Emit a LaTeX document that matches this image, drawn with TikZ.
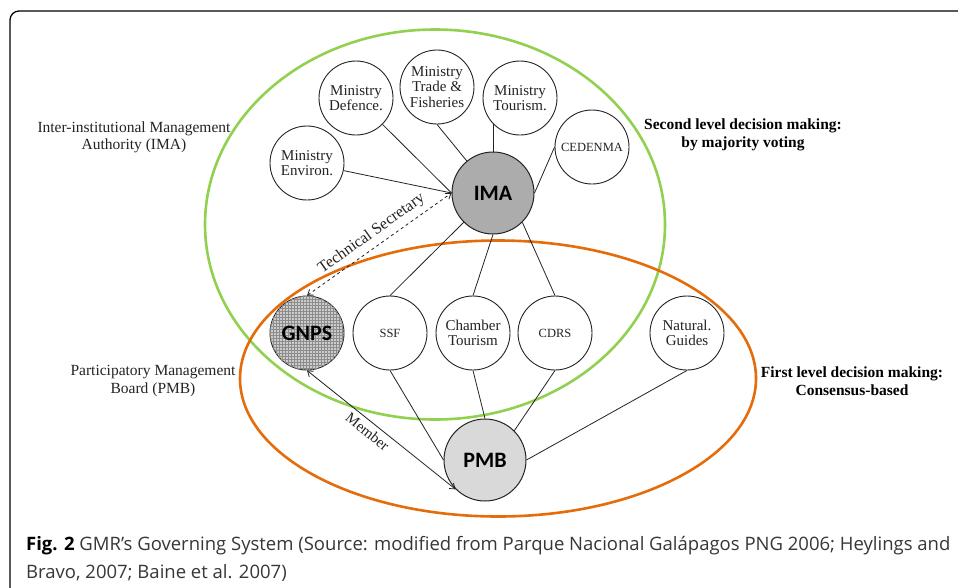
\documentclass[tikz,border=0pt]{standalone}
\usepackage{fontspec}
\setmainfont{Liberation Serif}
\newfontfamily\capfont{Open Sans}
\newfontfamily\hdfont{Carlito}
\usetikzlibrary{arrows.meta,patterns}
\definecolor{imaGreen}{RGB}{146,208,80}
\definecolor{pmbOrange}{RGB}{228,108,10}
\definecolor{inkGray}{RGB}{35,35,35}
\definecolor{capGray}{RGB}{55,55,55}
\tikzset{
  member/.style={circle, draw=inkGray, line width=0.9pt, fill=white, minimum size=74pt, inner sep=0pt,
    align=center, font=\fontsize{15}{15.5}\selectfont, text=inkGray},
  acronym/.style={font=\fontsize{12.5}{14}\selectfont},
  hub/.style={circle, draw=inkGray, line width=1pt, minimum size=82pt, inner sep=0pt,
    font=\hdfont\bfseries\fontsize{22}{24}\selectfont, text=black},
  link/.style={draw=inkGray, line width=0.8pt},
  bothtips/.style={{Straight Barb[length=5pt,width=7pt]}-{Straight Barb[length=5pt,width=7pt]}},
  sidelabel/.style={align=center, font=\fontsize{15.5}{17.5}\selectfont, text=inkGray},
  levellabel/.style={align=center, font=\bfseries\fontsize{15.5}{17.5}\selectfont, text=black},
  ring/.style={line width=2.6pt}
}
\begin{document}
\begin{tikzpicture}[x=1pt,y=-1pt]
\useasboundingbox (0,0) rectangle (958,587);
\fill[white] (0,0) rectangle (958,587);

% outer frame
\draw[line width=1.3pt, rounded corners=9pt] (10,600) -- (10,11) -- (970,11);

% decision levels
\draw[ring, imaGreen] (435,224.5) ellipse [x radius=230pt, y radius=195pt];
\draw[ring, pmbOrange] (498,378.5) ellipse [x radius=258pt, y radius=138pt];

% IMA members
\node[member] (env) at (307,163) {Ministry\\Environ.};
\node[member] (def) at (356,98) {Ministry\\Defence.};
\node[member] (trade) at (437,87) {Ministry\\Trade \&\\Fisheries};
\node[member] (tour) at (520,98) {Ministry\\Tourism.};
\node[member, acronym] (ced) at (592,147) {CEDENMA};

% hubs
\node[hub, fill=gray!65] (ima) at (493,193) {IMA};
\node[hub, fill=gray!30] (pmb) at (485,460) {PMB};

% PMB members
\node[member, fill=gray!40, postaction={pattern=grid, pattern color=black!45}] (gnps) at (307,333) {};
\node[font=\hdfont\bfseries\fontsize{22}{24}\selectfont] (gnpst) at (gnps) {GNPS};
\node[member, acronym] (ssf) at (390,333) {SSF};
\node[member] (cham) at (473,333) {Chamber\\Tourism};
\node[member, acronym] (cdrs) at (555,333) {CDRS};
\node[member] (guide) at (687,333) {Natural.\\Guides};

% connectors
\draw[link] (env) -- (ima.west);
\draw[link] (def) -- (ima.west);
\draw[link] (trade.south) -- (ima);
\draw[link] (ima.north) -- (ima.north |- tour.223);
\draw[link] (ced.west) -- (ima.east);
\draw[link] (ima.south west) -- (ssf.north);
\draw[link] (ima.south) -- (cham.north);
\draw[link] (ima.south east) -- (cdrs.north);
\draw[link] (ssf.south) -- (pmb.west);
\draw[link] (cham.south) -- (pmb.north);
\draw[link] (cdrs.south) -- (pmb.north east);
\draw[link] (guide.south) -- (pmb.east);
\draw[link, dashed, bothtips] (gnps.north) -- node[sloped, above=2pt, font=\fontsize{16}{18}\selectfont, text=inkGray] (tsec) {Technical Secretary} (ima.west);
\draw[link, bothtips] (gnps.south) -- node[sloped, below=1pt, pos=0.45, font=\fontsize{15}{17}\selectfont, text=inkGray] (memb) {Member} (pmb.south west);

% side labels
\node[sidelabel] (imalab) at (134,137.5) {Inter-institutional Management\\Authority (IMA)};
\node[sidelabel] (pmblab) at (153,381) {Participatory Management\\Board (PMB)};
\node[levellabel] (second) at (743,135) {Second level decision making:\\by majority voting};
\node[levellabel] (first) at (852,381) {First level decision making:\\Consensus-based};

% caption
\node[anchor=base west, inner sep=0pt, font=\capfont\fontsize{18.5}{20}\selectfont, text=capGray] (cap1) at (26,550)
  {\textbf{\color{black}Fig. 2} GMR’s Governing System (Source: modified from Parque Nacional Galápagos PNG 2006; Heylings and};
\node[anchor=base west, inner sep=0pt, font=\capfont\fontsize{18.5}{20}\selectfont, text=capGray] (cap2) at (26,578)
  {Bravo, 2007; Baine et al. 2007)};
\end{tikzpicture}
\end{document}
